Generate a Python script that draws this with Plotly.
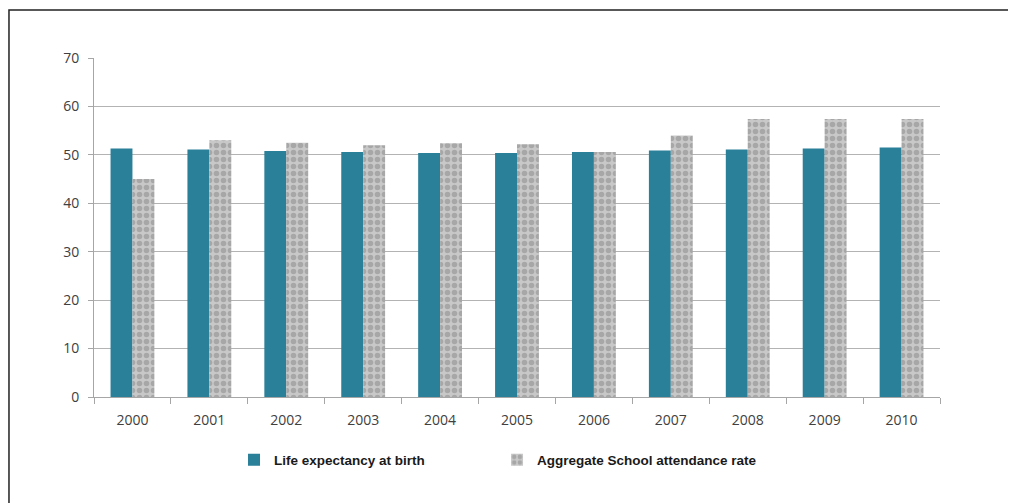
import plotly.graph_objects as go

years = ["2000", "2001", "2002", "2003", "2004", "2005", "2006", "2007", "2008", "2009", "2010"]
life_expectancy = [51.3, 51.1, 50.8, 50.6, 50.4, 50.4, 50.6, 50.9, 51.1, 51.3, 51.5]
school_attendance = [45.0, 53.0, 52.5, 52.0, 52.4, 52.2, 50.6, 54.0, 57.4, 57.4, 57.4]

fig = go.Figure()

fig.add_trace(
    go.Bar(
        x=years,
        y=life_expectancy,
        name="Life expectancy at birth",
        marker={"color": "#2a7f99", "line": {"width": 0}},
        legend="legend",
    )
)

# textured grey bars approximated with a dot pattern
fig.add_trace(
    go.Bar(
        x=years,
        y=school_attendance,
        name="Aggregate School attendance rate",
        marker={
            "color": "#c4c4c4",
            "line": {"width": 0},
            "pattern": {"shape": ".", "fgcolor": "#858585", "bgcolor": "#c8c8c8", "size": 7, "solidity": 0.5},
        },
        legend="legend2",
    )
)

# outer frame of the original figure
fig.add_shape(
    type="rect",
    xref="paper",
    yref="paper",
    x0=-0.1005,
    x1=1.2,
    y0=-0.5,
    y1=1.1416,
    line={"color": "#222222", "width": 1.5},
    layer="below",
)

fig.update_xaxes(
    showline=True,
    linecolor="#a6a6a6",
    linewidth=1,
    ticks="outside",
    tickson="boundaries",
    ticklen=6,
    tickcolor="#a6a6a6",
    ticklabelstandoff=10,
    tickfont={"family": "Open Sans", "size": 14, "color": "#404040"},
    showgrid=False,
)
fig.update_yaxes(
    range=[0, 70],
    dtick=10,
    showline=True,
    linecolor="#a6a6a6",
    linewidth=1,
    ticks="outside",
    ticklen=5,
    tickcolor="#a6a6a6",
    ticklabelstandoff=6,
    gridcolor="#b3b3b3",
    gridwidth=1,
    zeroline=False,
    tickfont={"family": "Open Sans", "size": 14, "color": "#404040"},
)

legend_font = {"family": "Liberation Sans", "size": 13.5, "color": "#1a1a1a", "weight": "bold"}

fig.update_layout(
    width=1016,
    height=503,
    margin={"l": 86, "r": 84, "t": 50, "b": 114},
    plot_bgcolor="white",
    paper_bgcolor="white",
    barmode="group",
    bargap=0.43,
    bargroupgap=0,
    showlegend=True,
    legend={"orientation": "h", "x": 0.1655, "y": -0.14, "xanchor": "left", "yanchor": "top", "font": legend_font},
    legend2={"orientation": "h", "x": 0.4764, "y": -0.14, "xanchor": "left", "yanchor": "top", "font": legend_font},
)

fig.write_html("out.html")
